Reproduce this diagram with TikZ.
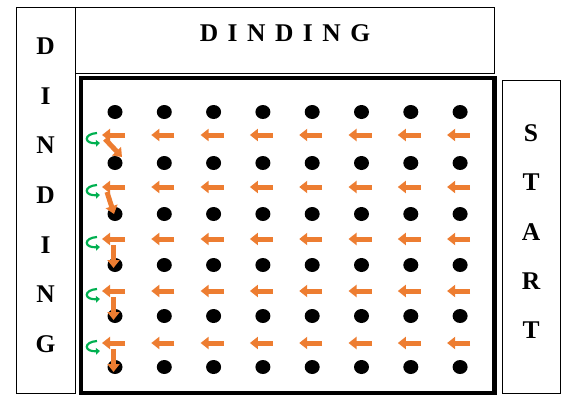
\documentclass[tikz,border=0pt]{standalone}
\usepackage{fontspec}
\setmainfont{Liberation Serif}
\usepackage{xcolor}
\usetikzlibrary{arrows.meta}
\definecolor{movecol}{HTML}{ED7D31}
\definecolor{turncol}{HTML}{00B050}
\newcommand{\lsp}{\hspace{9.5pt}}

\begin{document}
\begin{tikzpicture}[x=1pt,y=-1pt,
    frame/.style={draw,line width=1pt},
    letter/.style={font=\bfseries\fontsize{25.5}{26}\selectfont,inner sep=0pt},
    move/.style={movecol,line width=5pt,-{Triangle[width=12pt,length=8pt]}},
    turn/.style={turncol,line width=2.2pt,-{Triangle[width=6.5pt,length=4pt]}}]
  \useasboundingbox (0,0) rectangle (561,396);
  % label boxes and the field
  \draw[frame] (16,8) rectangle (75,393);
  \draw[frame] (75,8) rectangle (494,73);
  \draw[frame] (502,80) rectangle (560,393);
  \draw[line width=4.5pt] (81,78) rectangle (494.5,393);
  % labels
  \node[letter] (top) at (285,33) {D\lsp I\lsp N\lsp D\lsp I\lsp N\lsp G};
  \foreach \l [count=\i from 0] in {D,I,N,D,I,N,G}
    \node[letter] (left\i) at (45.5,46+49.7*\i) {\l};
  \foreach \l [count=\i from 0] in {S,T,A,R,T}
    \node[letter] (right\i) at (531,133+49.3*\i) {\l};
  % grid of points
  \foreach \c in {0,...,7}
    \foreach \r in {0,...,5}
      \fill (115+49.3*\c,112+51*\r) circle[x radius=7.5,y radius=7];
  % moves right to left between rows
  \foreach \r in {0,...,4} {
    \foreach \c in {0,...,7}
      \draw[move] (125+49.3*\c,135+52*\r) -- (102+49.3*\c,135+52*\r);
    \draw[turn] (97,133+52*\r) .. controls (83,134+52*\r) and (84,144+52*\r) .. (100,143+52*\r);
  }
  % step down to the next row
  \draw[move] (105,139) -- (122,157);
  \draw[move] (107,192) -- (114,214);
  \foreach \y in {239,291,343}
    \draw[move] (113.5,\y+6) -- (113.5,\y+29);
\end{tikzpicture}
\end{document}
